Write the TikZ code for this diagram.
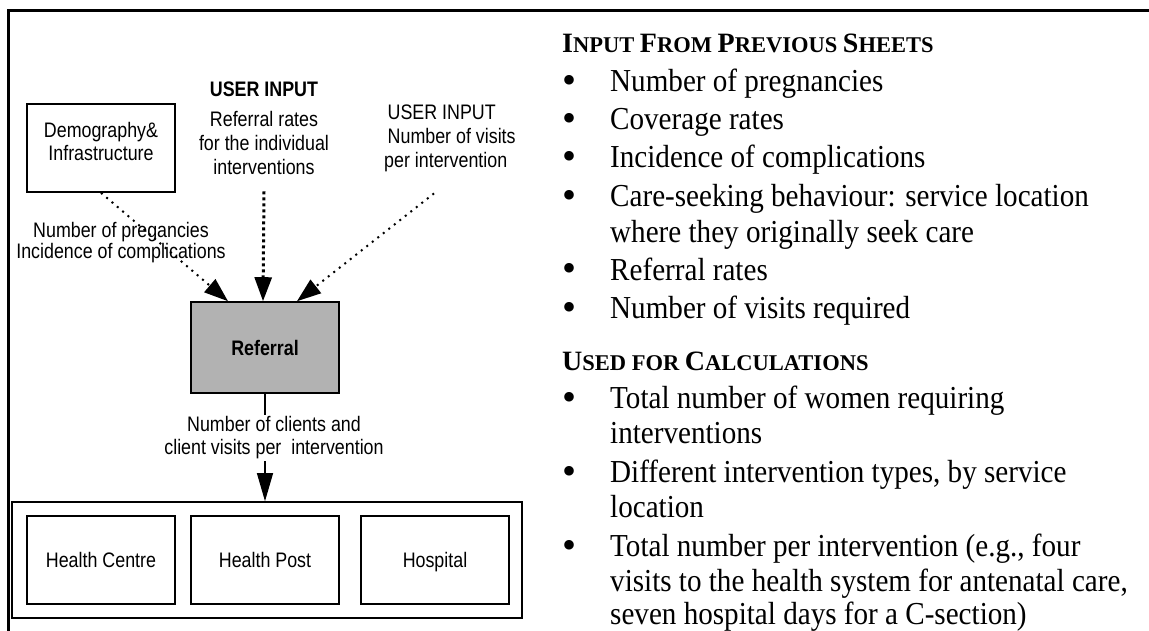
\documentclass[tikz,border=0pt]{standalone}
\usepackage{fontspec}
\setmainfont[FakeStretch=0.91]{Liberation Serif}
\newfontfamily\hdfont{Liberation Serif}
\newfontfamily\diagfont[FakeStretch=0.85]{Liberation Sans}
\usetikzlibrary{arrows.meta}
\definecolor{refgray}{gray}{0.70}
\newcommand{\hdcap}[1]{{\fontsize{28}{30}\selectfont #1}}

\begin{document}
\begin{tikzpicture}[x=1pt,y=-1pt,
    box/.style={draw,line width=1.6pt,minimum width=148pt,minimum height=88pt,inner sep=0pt,
      align=center,font=\diagfont\fontsize{21}{23}\selectfont},
    site/.style={box,text height=15pt,text depth=0pt},
    lbl/.style={inner sep=0pt,align=center,font=\diagfont\fontsize{21}{24}\selectfont},
    feed/.style={line width=2pt,dash pattern=on 2pt off 5pt,-{Triangle[length=24pt,width=17pt]}},
    flow/.style={line width=1.2pt,-{Triangle[length=28pt,width=16pt]}},
    hd/.style={anchor=base west,inner sep=0pt,font=\hdfont\bfseries\fontsize{22.5}{27}\selectfont},
    txt/.style={anchor=base west,inner sep=0pt,font=\fontsize{32}{38}\selectfont},
    bul/.style={anchor=base,inner sep=0pt,font=\hdfont\fontsize{40}{40}\selectfont}]
  \useasboundingbox (0,0) rectangle (1149,631);
  % frame
  \draw[line width=3pt] (8.5,640) -- (8.5,11) -- (1160,11);

  % left: flow chart
  \node[box] (demo) at (101,148) {Demography\&\\Infrastructure\rule[-14pt]{0pt}{0pt}};
  \node[lbl,anchor=north] (uin1) at (264,82) {{\bfseries USER INPUT}\\[6pt]Referral rates\\for the individual\\interventions};
  \node[lbl,anchor=north west,align=left] (uin2) at (384,105) {\,USER INPUT\\ \,Number of visits\\per intervention};
  \node[site,fill=refgray,font=\diagfont\bfseries\fontsize{21}{23}\selectfont,minimum height=91pt] (ref) at (265,347.5) {Referral};
  \node[draw,line width=1.6pt,minimum width=510pt,minimum height=116pt,inner sep=0pt] (sites) at (267,560) {};
  \node[site] (hc) at (101,560) {Health Centre};
  \node[site] (hp) at (265,560) {Health Post};
  \node[site] (hosp) at (435,560) {Hospital};

  \draw[feed] (demo.south) -- ([xshift=-37pt]ref.north);
  \node[lbl,anchor=north,font=\diagfont\fontsize{21}{21}\selectfont] (dlbl) at (121,222) {Number of pregancies\\Incidence of complications};
  \draw[feed,line width=3pt,dash pattern=on 3pt off 3pt] ([yshift=-16pt]uin1.south) -- ([xshift=-2pt]ref.north);
  \draw[feed] ([xshift=50pt,yshift=-21pt]uin2.south west) -- ([xshift=32pt]ref.north);
  \draw[flow] (ref.south) -- (ref.south |- sites.north)
    node[lbl,pos=0.41,fill=white,inner sep=2pt,xshift=9pt,font=\diagfont\fontsize{21}{23}\selectfont] (flbl) {Number of clients and\\client visits per\ \ intervention};

  % right: lists
  \node[hd] (inhd) at (562,53) {\hdcap{I}NPUT \hdcap{F}ROM \hdcap{P}REVIOUS \hdcap{S}HEETS};
  \foreach \yy/\tx [count=\i] in {92/Number of pregnancies, 130/Coverage rates,
      168/Incidence of complications, 207/Care-seeking behaviour: service location,
      243/where they originally seek care, 280/Referral rates, 318/Number of visits required}
    \node[txt] (in\i) at (610,\yy) {\tx};
  \foreach \yy in {92,130,168,207,280,318}
    \node[bul] (bin\yy) at (569,\yy+2) {\textbullet};

  \node[hd] (usehd) at (562,370) {\hdcap{U}SED FOR \hdcap{C}ALCULATIONS};
  \foreach \yy/\tx [count=\i] in {408/Total number of women requiring, 443/interventions,
      482/{Different intervention types, by service}, 517/location,
      556/{Total number per intervention (e.g., four},
      591/{visits to the health system for antenatal care,},
      624/seven hospital days for a C-section)}
    \node[txt] (use\i) at (610,\yy) {\tx};
  \foreach \yy in {408,482,556}
    \node[bul] (buse\yy) at (569,\yy+2) {\textbullet};
\end{tikzpicture}
\end{document}
